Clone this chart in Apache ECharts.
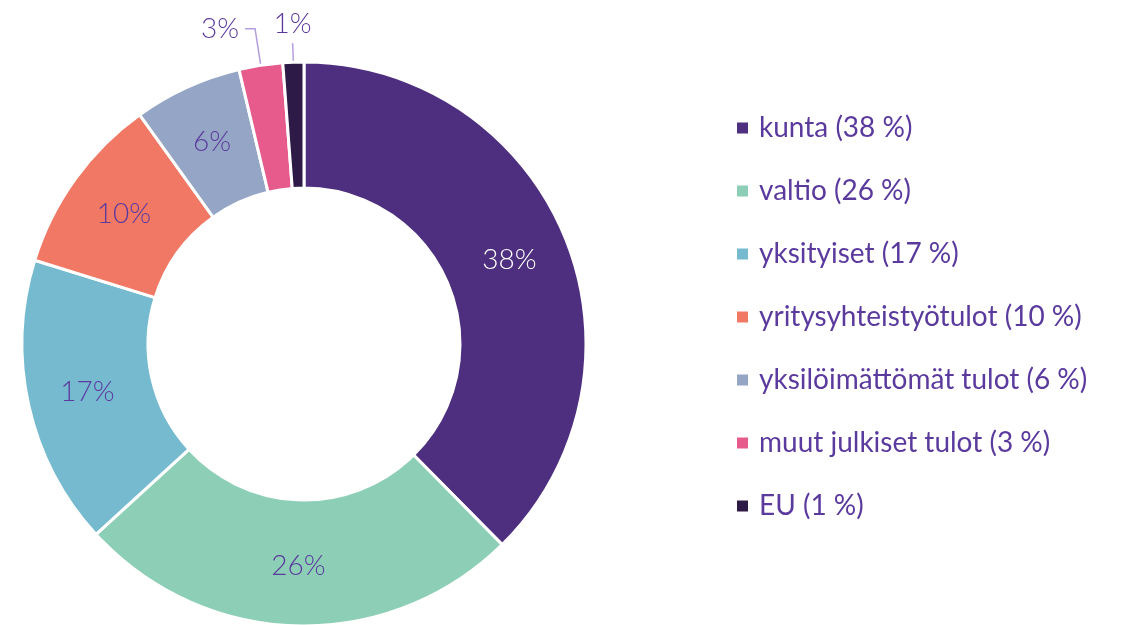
<!DOCTYPE html>
<html>
<head>
<meta charset="utf-8">
<script src="https://cdn.jsdelivr.net/npm/echarts@6/dist/echarts.min.js"></script>
<style>
html,body{margin:0;padding:0;background:#fff;}
#main{width:1122px;height:625px;}
</style>
</head>
<body>
<div id="main"></div>
<script>
// rahoituslähteet, osuudet prosentteina
var names  = ['kunta', 'valtio', 'yksityiset', 'yritysyhteistyötulot', 'yksilöimättömät tulot', 'muut julkiset tulot', 'EU'];
var shares = [37.6, 25.6, 16.6, 10.3, 6.2, 2.5, 1.2];
var colors = ['#4e2f7f', '#8dcfb6', '#76bad0', '#f07865', '#95a5c5', '#e65b8b', '#2e1a47'];

var txt = '#5b3a9e';
var myChart = echarts.init(document.getElementById('main'));

function pct(i) { return Math.round(shares[i]); }

var ringData = names.map(function (n, i) {
	return {
		name: n, value: shares[i],
		itemStyle: { color: colors[i] },
		label: { color: i == 0 ? '#ffffff' : txt }
	};
});

// pienet siivut: nimiö ulkopuolelle viivan kanssa
var guideData = names.map(function (n, i) {
	var small = i >= 5;
	return {
		name: n, value: shares[i],
		label: { show: small },
		labelLine: { show: small, length: i == 5 ? 100 : 82, length2: i == 5 ? 10 : 0 }
	};
});

var option = {
	animation: false,
	legend: {
		orient: 'vertical',
		left: 735,
		top: 114,
		padding: 0,
		itemWidth: 13,
		itemHeight: 13,
		itemGap: 35,
		icon: 'rect',
		selectedMode: false,
		data: names,
		formatter: function (name) {
			return name + ' (' + pct(names.indexOf(name)) + ' %)';
		},
		textStyle: { color: txt, fontSize: 28, fontFamily: 'Lato', lineHeight: 24, padding: [0, 0, 0, 5] }
	},
	series: [{
		type: 'pie',
		center: [304, 344],
		radius: [156, 282],
		startAngle: 90,
		silent: true,
		data: ringData,
		itemStyle: { borderColor: '#fff', borderWidth: 3 },
		label: {
			show: true,
			position: 'inside',
			fontSize: 28,
			fontFamily: 'Lato',
			fontWeight: 300,
			formatter: function (p) { return p.dataIndex >= 5 ? '' : pct(p.dataIndex) + '%'; }
		},
		labelLine: { show: false }
	}, {
		type: 'pie',
		center: [304, 344],
		radius: [0, 219],
		startAngle: 90,
		silent: true,
		avoidLabelOverlap: false,
		legendHoverLink: false,
		data: guideData,
		itemStyle: { color: 'rgba(0,0,0,0)', borderWidth: 0 },
		label: {
			position: 'outside',
			color: txt,
			fontSize: 28,
			fontFamily: 'Lato',
			fontWeight: 300,
			distanceToLabelLine: 6,
			formatter: function (p) { return pct(p.dataIndex) + '%'; }
		},
		labelLine: { lineStyle: { color: '#b49ddf', width: 1.5 } },
		labelLayout: function (p) {
			if (p.dataIndex != 6) return {};
			var pts = p.labelLinePoints;
			return {
				x: pts[1][0], y: pts[1][1] - 5,
				align: 'center', verticalAlign: 'bottom',
				labelLinePoints: [pts[0], pts[1], pts[1]]
			};
		}
	}]
};

myChart.setOption(option);

window.addEventListener('resize', function () {
	myChart.resize();
});
</script>
</body>
</html>
